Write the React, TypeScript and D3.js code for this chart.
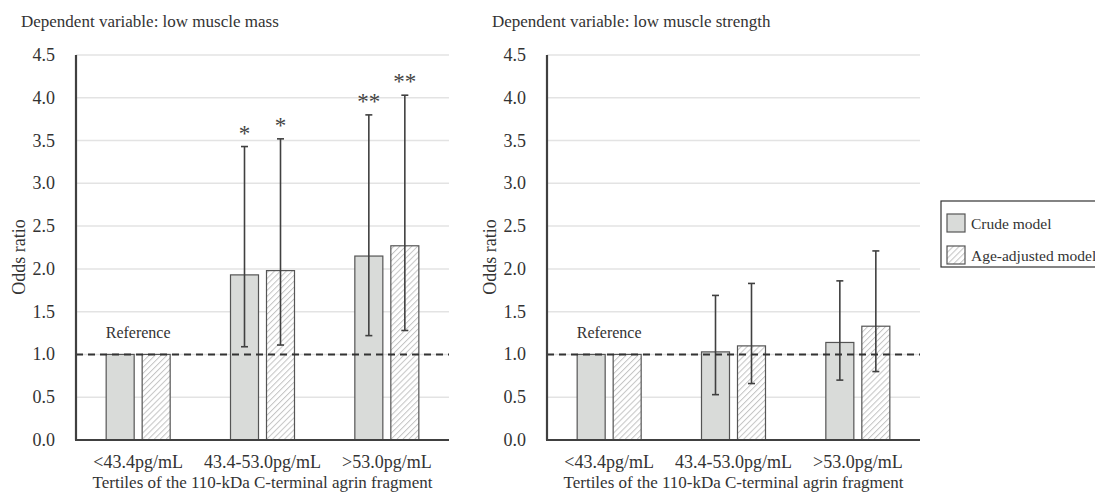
import React from "react";
import { scaleBand, scaleLinear } from "d3";

const width = 1095;
const height = 494;

const tertiles = ["<43.4pg/mL", "43.4-53.0pg/mL", ">53.0pg/mL"];
const models = ["Crude model", "Age-adjusted model"];
const yTicks = [0, 0.5, 1.0, 1.5, 2.0, 2.5, 3.0, 3.5, 4.0, 4.5];

// low muscle mass
const massCrude = [1.0, 1.93, 2.15];
const massCrudeLow = [null, 1.09, 1.22];
const massCrudeHigh = [null, 3.43, 3.8];
const massAdj = [1.0, 1.98, 2.27];
const massAdjLow = [null, 1.11, 1.28];
const massAdjHigh = [null, 3.52, 4.03];
const massCrudeStars = ["", "*", "**"];
const massAdjStars = ["", "*", "**"];

// low muscle strength
const strCrude = [1.0, 1.03, 1.14];
const strCrudeLow = [null, 0.53, 0.7];
const strCrudeHigh = [null, 1.69, 1.86];
const strAdj = [1.0, 1.1, 1.33];
const strAdjLow = [null, 0.66, 0.8];
const strAdjHigh = [null, 1.83, 2.21];
const noStars = ["", "", ""];

const font = "'Liberation Serif', 'Times New Roman', serif";
const ink = "#333";
const plotW = 373;
const yTop = 55;
const yBottom = 440;

const y = scaleLinear().domain([0, 4.5]).range([yBottom, yTop]);
const x = scaleBand().domain(tertiles).range([0, plotW]);
const inner = scaleBand()
  .domain(models)
  .range([0, x.bandwidth()])
  .paddingInner(0.222)
  .paddingOuter(0.838);

type PanelProps = {
  left: number;
  title: string;
  series: { vals: number[]; low: (number | null)[]; high: (number | null)[]; stars: string[] }[];
};

const Panel = ({ left, title, series }: PanelProps) => (
  <g>
    <text x={left - 55} y={27} fontSize={17} fill={ink} fontFamily={font}>
      {title}
    </text>
    {yTicks.map((t) => (
      <g key={t}>
        {t > 0 && (
          <line x1={left} x2={left + plotW} y1={y(t)} y2={y(t)} stroke="#e3e3e3" strokeWidth={1.5} />
        )}
        <text x={left - 21} y={y(t) + 6} textAnchor="end" fontSize={18} fill={ink} fontFamily={font}>
          {t.toFixed(1)}
        </text>
      </g>
    ))}
    <text
      transform={`translate(${left - 51},257) rotate(-90)`}
      textAnchor="middle"
      fontSize={18}
      fill={ink}
      fontFamily={font}
    >
      Odds ratio
    </text>
    {tertiles.map((c, i) => (
      <g key={c} transform={`translate(${left + (x(c) ?? 0)},0)`}>
        {series.map((s, j) => {
          const bx = inner(models[j]) ?? 0;
          const bw = inner.bandwidth();
          const cx = bx + bw / 2;
          const lo = s.low[i];
          const hi = s.high[i];
          return (
            <g key={j}>
              <rect
                x={bx}
                y={y(s.vals[i])}
                width={bw}
                height={y(0) - y(s.vals[i])}
                fill={j === 0 ? "#d9dbd9" : "url(#hatch)"}
                stroke="#555"
                strokeWidth={1.2}
              />
              {lo != null && hi != null && (
                <g stroke="#404040" strokeWidth={1.6}>
                  <line x1={cx} x2={cx} y1={y(lo)} y2={y(hi)} />
                  <line x1={cx - 3.5} x2={cx + 3.5} y1={y(lo)} y2={y(lo)} />
                  <line x1={cx - 3.5} x2={cx + 3.5} y1={y(hi)} y2={y(hi)} />
                </g>
              )}
              {s.stars[i] && hi != null && (
                <text x={cx} y={y(hi) - 6} textAnchor="middle" fontSize={23} fill="#444" fontFamily={font}>
                  {s.stars[i]}
                </text>
              )}
            </g>
          );
        })}
        <text
          x={x.bandwidth() / 2}
          y={468}
          textAnchor="middle"
          fontSize={18}
          fill={ink}
          fontFamily={font}
        >
          {c}
        </text>
      </g>
    ))}
    <text
      x={left + (x(tertiles[0]) ?? 0) + x.bandwidth() / 2}
      y={y(1) - 16}
      textAnchor="middle"
      fontSize={16}
      fill={ink}
      fontFamily={font}
    >
      Reference
    </text>
    <line
      x1={left}
      x2={left + plotW}
      y1={y(1)}
      y2={y(1)}
      stroke="#333"
      strokeWidth={2}
      strokeDasharray="7,5"
    />
    <line x1={left} x2={left} y1={yTop} y2={yBottom} stroke="#404040" strokeWidth={2.2} />
    <line x1={left - 1} x2={left + plotW} y1={yBottom} y2={yBottom} stroke="#404040" strokeWidth={2.2} />
    <text
      x={left + plotW / 2}
      y={488}
      textAnchor="middle"
      fontSize={17}
      fill={ink}
      fontFamily={font}
    >
      Tertiles of the 110-kDa C-terminal agrin fragment
    </text>
  </g>
);

export default function App() {
  return (
    <svg
      width={width}
      height={height}
      style={{ position: "absolute", left: 0, top: 0, background: "#fff" }}
    >
      <defs>
        <pattern id="hatch" patternUnits="userSpaceOnUse" width={4.2} height={4.2} patternTransform="rotate(45)">
          <rect width={4.2} height={4.2} fill="#fff" />
          <line x1={0} y1={0} x2={0} y2={4.2} stroke="#c4c4c4" strokeWidth={2} />
        </pattern>
      </defs>
      <Panel
        left={76}
        title="Dependent variable: low muscle mass"
        series={[
          { vals: massCrude, low: massCrudeLow, high: massCrudeHigh, stars: massCrudeStars },
          { vals: massAdj, low: massAdjLow, high: massAdjHigh, stars: massAdjStars },
        ]}
      />
      <Panel
        left={547}
        title="Dependent variable: low muscle strength"
        series={[
          { vals: strCrude, low: strCrudeLow, high: strCrudeHigh, stars: noStars },
          { vals: strAdj, low: strAdjLow, high: strAdjHigh, stars: noStars },
        ]}
      />
      <g>
        <rect x={941} y={201} width={170} height={66} fill="#fff" stroke="#333" strokeWidth={1.2} />
        {models.map((m, i) => (
          <g key={m} transform={`translate(947,${214 + i * 32})`}>
            <rect
              width={18}
              height={18}
              fill={i === 0 ? "#d9dbd9" : "url(#hatch)"}
              stroke="#555"
              strokeWidth={1.2}
            />
            <text x={24} y={15} fontSize={15.5} fill={ink} fontFamily={font}>
              {m}
            </text>
          </g>
        ))}
      </g>
    </svg>
  );
}
